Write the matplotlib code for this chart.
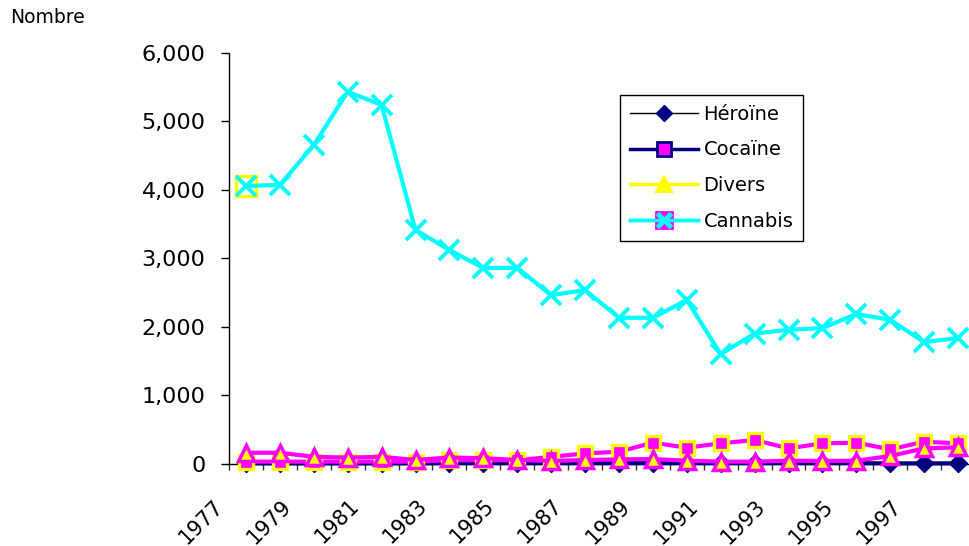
import matplotlib
matplotlib.use('Agg')
import matplotlib.pyplot as plt
import numpy as np
from matplotlib.lines import Line2D
from matplotlib.legend_handler import HandlerTuple
from matplotlib.transforms import ScaledTranslation
from matplotlib.ticker import FuncFormatter, FixedLocator, NullFormatter

years = list(range(1977, 1999))
heroine = [5, 5, 5, 5, 5, 5, 8, 8, 8, 8, 8, 8, 8, 8, 8, 8, 8, 8, 8, 5, 5, 5]
cocaine = [30, 30, 30, 30, 30, 30, 50, 50, 50, 100, 150, 175, 307, 234, 297, 346, 224, 297, 307, 210, 321, 297]
divers = [160, 160, 100, 90, 100, 55, 90, 80, 55, 40, 54, 63, 68, 44, 30, 30, 44, 39, 44, 112, 224, 239]
cannabis = [4054, 4070, 4650, 5430, 5237, 3412, 3120, 2857, 2860, 2460, 2535, 2130, 2130, 2390,
            1600, 1900, 1955, 1980, 2185, 2100, 1775, 1835]
series_names = ['Héroïne', 'Cocaïne', 'Divers', 'Cannabis']
y_ticks = [0, 1000, 2000, 3000, 4000, 5000, 6000]

plt.rcParams['font.family'] = ['DejaVu Sans']

W, H = 969, 546
fig = plt.figure(figsize=(W / 100, H / 100), dpi=100)
ax = fig.add_axes([229 / W, 1 - 463.7 / H, (975 - 229) / W, (463.7 - 52.7) / H])

x = np.arange(len(years))
NAVY = '#000080'
MAG = '#FF00FF'
YEL = '#FFFF00'
CYAN = '#00FFFF'

ax.plot(x, heroine, color=NAVY, lw=3, marker='D', ms=9.5, mfc=NAVY, mec=NAVY, zorder=3, clip_on=False)
ax.plot(x, cocaine, color=MAG, lw=3, marker='s', ms=10.5, mfc=MAG, mec=YEL, mew=2.4, zorder=4, clip_on=False)
ax.plot(x, divers, color=MAG, lw=3, marker='^', ms=11, mfc=YEL, mec=MAG, mew=2.5, zorder=5, clip_on=False)
ax.plot(x[:1], cannabis[:1], ls='none', marker='s', ms=14, mfc='white', mec=YEL, mew=2.5, zorder=6, clip_on=False)
ax.plot(x, cannabis, color=CYAN, lw=3, marker='x', ms=14, mec=CYAN, mew=2.8, zorder=7, clip_on=False)

ax.set_xlim(-0.5, len(years) - 0.5)
ax.set_ylim(0, 6000)

for s in ['top', 'right']:
    ax.spines[s].set_visible(False)
ax.spines['left'].set_color('black')
ax.spines['left'].set_linewidth(1)
ax.spines['bottom'].set_color('black')
ax.spines['bottom'].set_linewidth(1)

ax.yaxis.set_major_locator(FixedLocator(y_ticks))
ax.yaxis.set_major_formatter(FuncFormatter(lambda v, p: f'{v:,.0f}'))
ax.tick_params(axis='y', which='major', direction='out', length=6, width=1,
               color='black', labelsize=16, pad=11, labelcolor='black')

ax.xaxis.set_major_locator(FixedLocator(x[::2]))
ax.set_xticklabels([str(y) for y in years[::2]])
ax.xaxis.set_minor_locator(FixedLocator(np.arange(-0.5, len(years), 1)))
ax.xaxis.set_minor_formatter(NullFormatter())
ax.tick_params(axis='x', which='major', length=0, labelsize=15, pad=23)
ax.tick_params(axis='x', which='minor', direction='out', length=4, width=1, color='#333333')
offset = ScaledTranslation(-33 / 100, 0, fig.dpi_scale_trans)
for lab in ax.get_xticklabels():
    lab.set_rotation(45)
    lab.set_ha('right')
    lab.set_va('top')
    lab.set_rotation_mode('anchor')
    lab.set_transform(lab.get_transform() + offset)

fig.text(10 / W, 1 - 23 / H, 'Nombre', fontsize=13.5, va='baseline', ha='left')

h1 = Line2D([], [], color='black', lw=1, marker='D', ms=8, mfc=NAVY, mec=NAVY)
h2 = Line2D([], [], color=NAVY, lw=2.5, marker='s', ms=10, mfc=MAG, mec=NAVY, mew=2)
h3 = Line2D([], [], color=YEL, lw=2.5, marker='^', ms=12, mfc=YEL, mec=YEL, mew=1.5)
h4a = Line2D([], [], color=CYAN, lw=2.5, marker='s', ms=11, mfc=MAG, mec=MAG, mew=2)
h4b = Line2D([], [], color=CYAN, lw=2.5, marker='x', ms=10, mec=CYAN, mew=3.5)
leg = ax.legend([h1, h2, h3, (h4a, h4b)], series_names,
                handler_map={tuple: HandlerTuple(ndivide=1, pad=0)},
                loc='upper left', bbox_to_anchor=(620 / W, 1 - 95 / H),
                bbox_transform=fig.transFigure, borderaxespad=0,
                fontsize=14, frameon=True, fancybox=False, framealpha=1,
                edgecolor='black', handlelength=3.5, handletextpad=0.3,
                labelspacing=0.86, borderpad=0.5)
leg.get_frame().set_linewidth(1)

fig.savefig('out.png', dpi=100)
